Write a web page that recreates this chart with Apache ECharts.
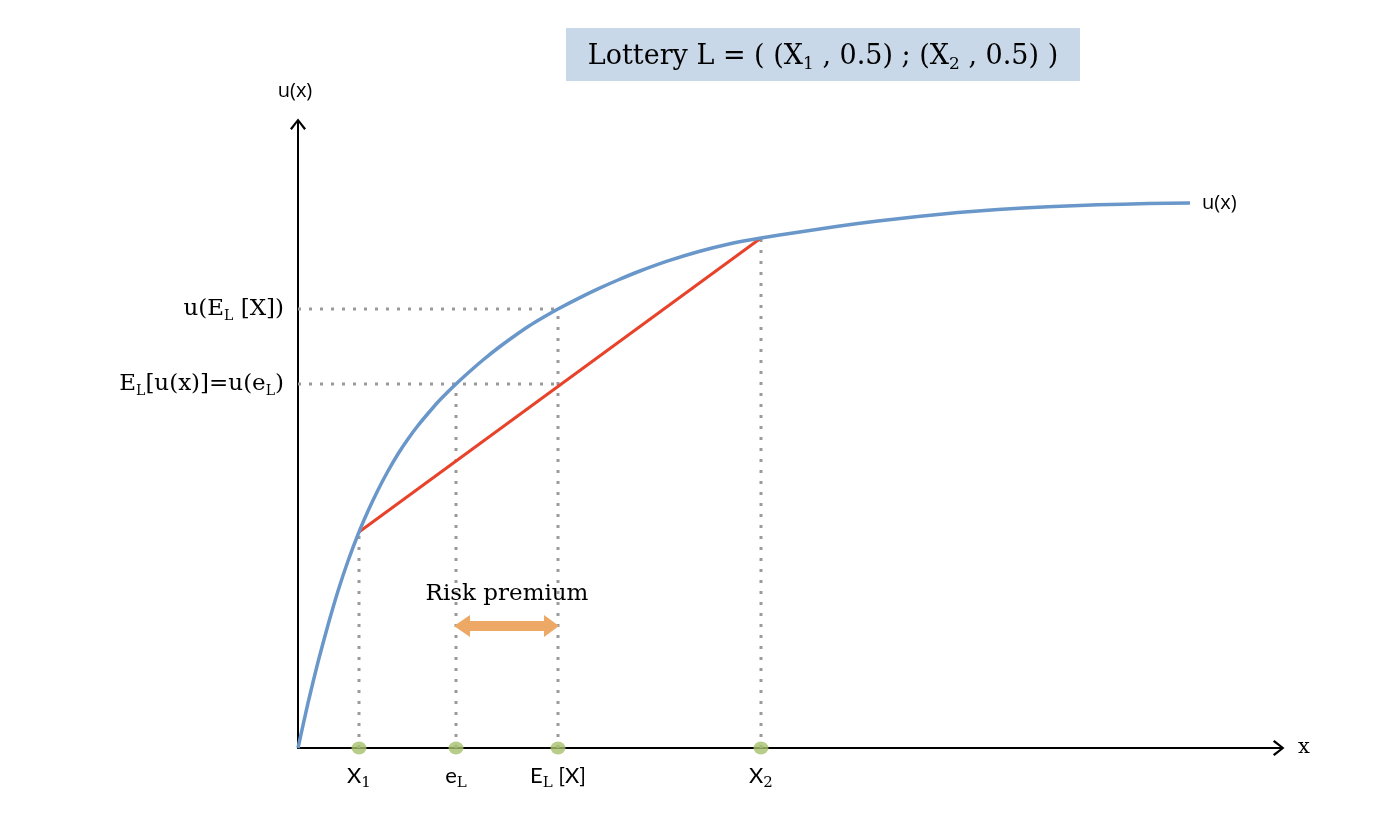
<!DOCTYPE html>
<html>
<head>
<meta charset="utf-8">
<script src="https://cdn.jsdelivr.net/npm/echarts@6/dist/echarts.min.js"></script>
<style>html,body{margin:0;padding:0;background:#fff;}#c{width:1384px;height:816px;}</style>
</head>
<body>
<div id="c"></div>
<script>
// ---- data (units = chart units) ----
const curveX = [0,10,20,30,40,50,61,70,80,90,100,110,120,130,140,150,158,170,185,200,215,231,245,260,280,300,320,342,370,400,430,463,500,540,580,620,660,700,750,800,850,892];
const curveU = [0,45,86,123,157,187,216,237,258,277,294,309,322.5,334.5,346,356.2,364,375,388,400,411,422,430.5,439,449.4,459.1,468,477,487.1,496.3,503.8,510,515.8,521.7,527,531.6,535.4,538.5,541.3,543.2,544.4,545];
const lotteryX = [61, 463];          // X1, X2
const lotteryU = [216, 510];         // u(X1), u(X2)
const certEq = 158;                  // e_L
const expX = 260;                    // E_L[X]
const uExpX = 439;                   // u(E_L[X])
const expU = 364;                    // E_L[u(x)] = u(e_L)
const markX = [61, 158, 260, 463];
const markLabels = ['X{s|1}', 'e{s|L}', 'E{s|L} [X]', 'X{s|2}'];
const yMarks = [364, 439];
const yMarkLabels = ['E{s|L}[u(x)]=u(e{s|L})', 'u(E{s|L} [X])'];
const premiumLevel = 122;
const titleText = '{t|Lottery L = ( (X}{s|1}{t| , 0.5) ; (X}{s|2}{t| , 0.5) )}';

const serif = 'DejaVu Serif';
const sans = 'Lato';
const sans2 = 'Open Sans';
const arrowPath = 'path://M8,0 L16,10 L14.2,11.6 L9,4.6 L9,13 L7,13 L7,4.6 L1.8,11.6 L0,10 Z';

const guides = [
  [[0, uExpX], [expX, uExpX]],
  [[0, expU], [expX, expU]],
  [[lotteryX[0], 0], [lotteryX[0], lotteryU[0]]],
  [[certEq, 0], [certEq, expU]],
  [[expX, 0], [expX, uExpX]],
  [[lotteryX[1], 0], [lotteryX[1], lotteryU[1]]]
];

const chart = echarts.init(document.getElementById('c'));
const guideSeries = guides.map(g => ({
  type: 'line', data: g, symbol: 'none', silent: true, z: 1,
  lineStyle: { color: '#9a9a9a', width: 3, type: [3, 8] }
}));

chart.setOption({
  animation: false,
  backgroundColor: '#ffffff',
  grid: { left: 298, right: 106, top: 125, bottom: 68 },
  graphic: [{
    type: 'group', left: 566, top: 28,
    children: [
      { type: 'rect', shape: { x: 0, y: 0, width: 514, height: 53 }, style: { fill: '#c8d8e8' } },
      { type: 'text', x: 257, y: 29, style: {
        text: titleText, align: 'center', verticalAlign: 'middle',
        rich: {
          t: { fontFamily: serif, fontSize: 27, color: '#111', lineHeight: 30 },
          s: { fontFamily: serif, fontSize: 17, color: '#111', lineHeight: 16, padding: [16, 0, 0, 0] }
        }
      } }
    ]
  }],
  xAxis: {
    type: 'value', min: 0, max: 980,
    splitLine: { show: false }, axisTick: { show: false },
    axisLine: { onZero: false, lineStyle: { color: '#000', width: 2 }, symbol: ['none', arrowPath], symbolSize: [16, 13] },
    name: 'x', nameLocation: 'end', nameGap: 20,
    nameTextStyle: { fontFamily: serif, fontSize: 21, color: '#000', verticalAlign: 'middle' },
    axisLabel: {
      customValues: markX, margin: 16,
      formatter: v => markLabels[markX.indexOf(v)],
      fontFamily: sans, fontSize: 22, color: '#000', lineHeight: 24,
      rich: { s: { fontFamily: serif, fontSize: 15, color: '#000', lineHeight: 15, padding: [14, 0, 0, 0] } }
    }
  },
  yAxis: {
    type: 'value', min: 0, max: 623,
    splitLine: { show: false }, axisTick: { show: false },
    axisLine: { onZero: false, lineStyle: { color: '#000', width: 2 }, symbol: ['none', arrowPath], symbolSize: [16, 13] },
    name: 'u(x)', nameLocation: 'end', nameGap: 24,
    nameTextStyle: { fontFamily: sans2, fontSize: 20, color: '#000', align: 'center', padding: [0, 6, 0, 0] },
    axisLabel: {
      customValues: yMarks, margin: 14,
      formatter: v => yMarkLabels[yMarks.indexOf(v)],
      fontFamily: serif, fontSize: 23, color: '#000', lineHeight: 26,
      rich: { s: { fontFamily: serif, fontSize: 14, color: '#000', lineHeight: 14, padding: [14, 0, 0, 0] } }
    }
  },
  series: [
    ...guideSeries,
    {
      type: 'line', data: lotteryX.map((x, i) => [x, lotteryU[i]]), symbol: 'none', z: 3,
      lineStyle: { color: '#e8432a', width: 3 }
    },
    {
      type: 'line', data: curveX.map((x, i) => [x, curveU[i]]), symbol: 'none', smooth: 0.2, z: 4,
      lineStyle: { color: '#6a97c9', width: 3.5 },
      endLabel: { show: true, formatter: 'u(x)', distance: 12, fontFamily: sans2, fontSize: 20, color: '#000' }
    },
    {
      type: 'scatter', data: markX.map(x => [x, 0]), symbol: 'circle', symbolSize: [15, 13], z: 6,
      itemStyle: { color: '#a6c16d' }
    },
    {
      type: 'custom', z: 5,
      data: [[certEq, premiumLevel, expX]],
      renderItem: (params, api) => {
        const a = api.coord([api.value(0), api.value(1)]);
        const b = api.coord([api.value(2), api.value(1)]);
        const head = 14, hh = 11, sh = 5;
        return {
          type: 'group',
          children: [
            { type: 'polygon', shape: { points: [
              [a[0] - 2, a[1]], [a[0] + head, a[1] - hh], [a[0] + head, a[1] - sh], [b[0] - head, b[1] - sh],
              [b[0] - head, b[1] - hh], [b[0] + 1, b[1]], [b[0] - head, b[1] + hh], [b[0] - head, b[1] + sh],
              [a[0] + head, a[1] + sh], [a[0] + head, a[1] + hh]
            ] }, style: { fill: '#eea865' } },
            { type: 'text', x: (a[0] + b[0]) / 2, y: a[1] - 32, style: {
              text: 'Risk premium', align: 'center', verticalAlign: 'middle',
              fontFamily: serif, fontSize: 23, fill: '#000'
            } }
          ]
        };
      }
    }
  ]
});
</script>
</body>
</html>
